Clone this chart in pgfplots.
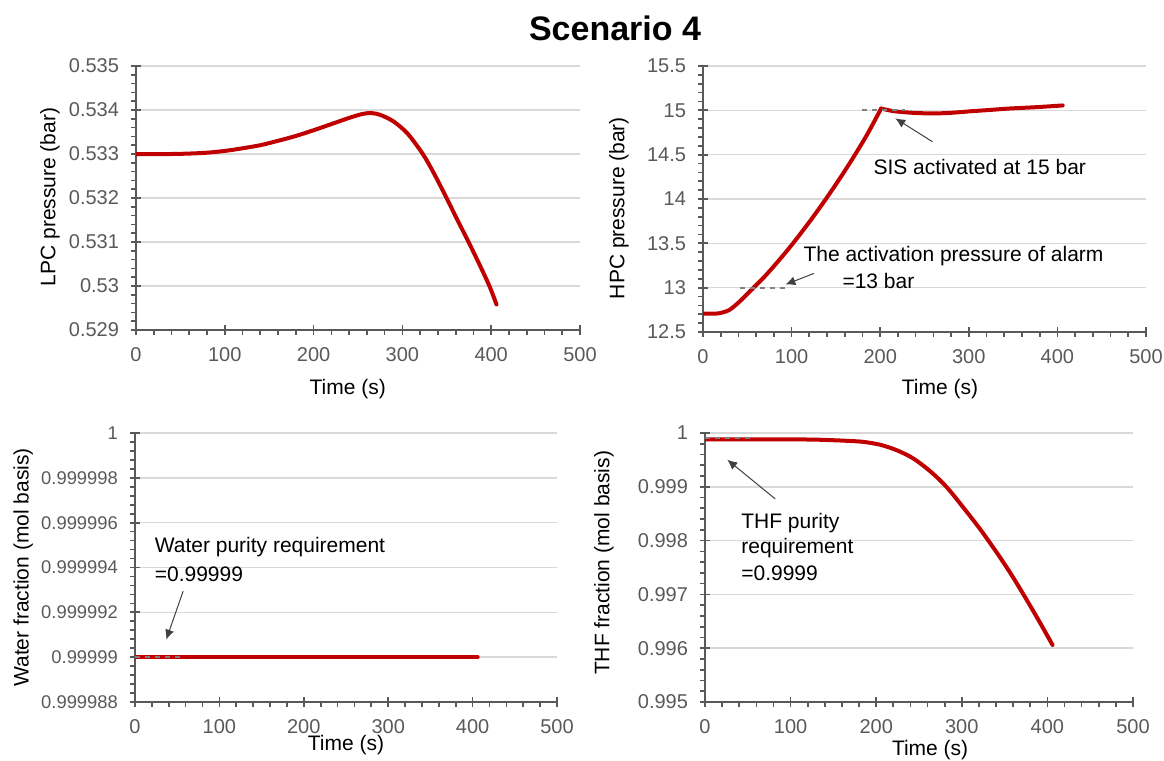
\documentclass[border=0pt]{standalone}
\usepackage{fontspec}
\setmainfont{Liberation Sans}
\usepackage{pgfplots}
\pgfplotsset{compat=1.18}
\usetikzlibrary{arrows.meta}
\definecolor{cred}{HTML}{C00000}
\definecolor{axgray}{HTML}{595959}
\definecolor{lblgray}{HTML}{595959}
\definecolor{gridgray}{HTML}{D9D9D9}
\definecolor{refgray}{HTML}{808080}
\definecolor{arrgray}{HTML}{404040}

\tikzset{
  arr/.style={color=arrgray, line width=0.5pt, -{Latex[length=5pt,width=4.5pt]}},
  ann/.style={font=\fontsize{10.5}{12.5}\selectfont, text=black, inner sep=0pt, anchor=west},
}
\pgfplotsset{
  panel/.style={
    scale only axis,
    anchor=south west,
    axis x line*=bottom,
    axis y line*=left,
    xmin=0, xmax=500,
    xtick={0,100,200,300,400,500},
    minor x tick num=4,
    minor y tick num=4,
    tick align=outside,
    major tick length=5pt,
    minor tick length=2.5pt,
    every major x tick/.append style={yshift=2.5pt},
    every major y tick/.append style={xshift=2.5pt},
    axis line style={color=axgray, line width=0.85pt},
    tick style={color=axgray, line width=0.85pt},
    ymajorgrids,
    major grid style={color=gridgray, line width=0.75pt},
    tick label style={font=\fontsize{10}{12}\selectfont, text=lblgray},
    /pgf/number format/assume math mode=true,
    label style={font=\fontsize{10.5}{12.5}\selectfont, text=black},
    xlabel={Time (s)},
  },
  redline/.style={color=cred, line width=2pt, line cap=round, line join=round, no marks, smooth, tension=0.5},
  refline/.style={color=refgray, line width=0.9pt, dash pattern=on 2.5pt off 2.5pt, no marks},
}

\begin{document}
\begin{tikzpicture}
\useasboundingbox (0,0) rectangle (582pt,380.5pt);
\node[font=\fontsize{17}{20}\selectfont\bfseries] at (307.5pt,366.5pt) {Scenario 4};

% ---------------- Panel 1: LPC pressure ----------------
\begin{axis}[panel,
  at={(68pt,215.5pt)}, width=222pt, height=132pt,
  ymin=0.529, ymax=0.535,
  ytick={0.529,0.530,0.531,0.532,0.533,0.534,0.535},
  yticklabels={0.529,0.53,0.531,0.532,0.533,0.534,0.535},
  ylabel={LPC pressure (bar)},
  xlabel style={at={(axis description cs:0.477,-0.2235)}, anchor=center},
  ylabel style={at={(axis description cs:-0.194,0.504)}, anchor=center},
]
\addplot[redline] coordinates {
(0,0.53300) (20,0.53300) (40,0.53300) (60,0.53301) (80,0.53303)
(100,0.53307) (120,0.53313) (140,0.53320) (160,0.53330) (180,0.53341)
(200,0.53354) (220,0.53368) (240,0.53382) (255,0.53391) (265,0.53393)
(275,0.53389) (290,0.53374) (306,0.53346) (323,0.53300) (335,0.53258)
(349,0.53203) (362,0.53150) (375,0.53098) (387,0.53048) (398,0.53000)
(406,0.52958)
};
\end{axis}

% ---------------- Panel 2: HPC pressure ----------------
\begin{axis}[panel,
  at={(351.5pt,214.5pt)}, width=221.5pt, height=133pt,
  ymin=12.5, ymax=15.5,
  ytick={12.5,13,13.5,14,14.5,15,15.5},
  yticklabels={12.5,13,13.5,14,14.5,15,15.5},
  ylabel={HPC pressure (bar)},
  xlabel style={at={(axis description cs:0.535,-0.214)}, anchor=center},
  ylabel style={at={(axis description cs:-0.19,0.466)}, anchor=center},
]
\addplot[redline] coordinates {
(0,12.706) (10,12.706) (15,12.708) (20,12.715) (30,12.75) (42,12.85)
(57,13.0) (70,13.13) (85,13.30) (100,13.48) (120,13.74) (138,13.99)
(155,14.24) (171,14.49) (186,14.74) (201,15.02)
};
\addplot[redline] coordinates {
(201,15.02) (210,15.0) (220,14.985) (240,14.97) (261,14.965) (280,14.972)
(303,14.99) (325,15.005) (345,15.02) (375,15.035) (406,15.055)
};
\addplot[refline] coordinates {(180,15) (228,15)};
\addplot[refline] coordinates {(42,13) (92,13)};
\draw[arr] (axis cs:259,14.646) -- (axis cs:217,14.91);
\draw[arr] (axis cs:125,13.16) -- (axis cs:93,13.035);
\node[ann] at (axis cs:192,14.36) {SIS activated at 15 bar};
\node[ann] at (axis cs:113,13.354) {The activation pressure of alarm};
\node[ann] at (axis cs:157,13.07) {=13 bar};
\end{axis}

% ---------------- Panel 3: Water fraction ----------------
% y values stored as (fraction - 0.99999) x 10^6
\begin{axis}[panel,
  at={(67.5pt,29.5pt)}, width=211pt, height=134.5pt,
  ymin=-2, ymax=10,
  ytick={-2,0,2,4,6,8,10},
  yticklabels={0.999988,0.99999,0.999992,0.999994,0.999996,0.999998,1},
  yticklabel style={font=\fontsize{9.2}{11}\selectfont},
  ylabel={Water fraction (mol basis)},
  xlabel style={at={(axis description cs:0.5,-0.16)}, anchor=center},
  ylabel style={at={(axis description cs:-0.265,0.5)}, anchor=center},
]
\addplot[redline] coordinates {
(0,0) (100,0) (200,0) (300,0) (406,0)
};
\addplot[refline] coordinates {(0,0) (57,0)};
\draw[arr] (axis cs:57,2.94) -- (axis cs:37,0.78);
\node[ann] at (axis cs:23,4.9) {Water purity requirement};
\node[ann] at (axis cs:23,3.72) {=0.99999};
\end{axis}

% ---------------- Panel 4: THF fraction ----------------
\begin{axis}[panel,
  at={(352.5pt,29.5pt)}, width=214pt, height=134.5pt,
  ymin=0.995, ymax=1,
  ytick={0.995,0.996,0.997,0.998,0.999,1},
  yticklabels={0.995,0.996,0.997,0.998,0.999,1},
  ylabel={THF fraction (mol basis)},
  xlabel style={at={(axis description cs:0.526,-0.178)}, anchor=center},
  ylabel style={at={(axis description cs:-0.236,0.517)}, anchor=center},
]
\addplot[redline] coordinates {
(0,0.99988) (50,0.99988) (100,0.99988) (125,0.999878) (146,0.999868)
(165,0.999855) (185,0.999835) (205,0.99978) (224,0.99968) (243,0.99953)
(263,0.99929) (282,0.99900) (302,0.99861) (322,0.99820) (342,0.99775)
(357,0.99739) (372,0.99700) (389,0.99654) (406,0.99606)
};
\addplot[refline] coordinates {(0,0.9999) (53,0.9999)};
\draw[arr] (axis cs:82,0.998776) -- (axis cs:26,0.999503);
\node[ann] at (axis cs:42,0.998335) {THF purity};
\node[ann] at (axis cs:42,0.997857) {requirement};
\node[ann] at (axis cs:42,0.997391) {=0.9999};
\end{axis}
\end{tikzpicture}
\end{document}
